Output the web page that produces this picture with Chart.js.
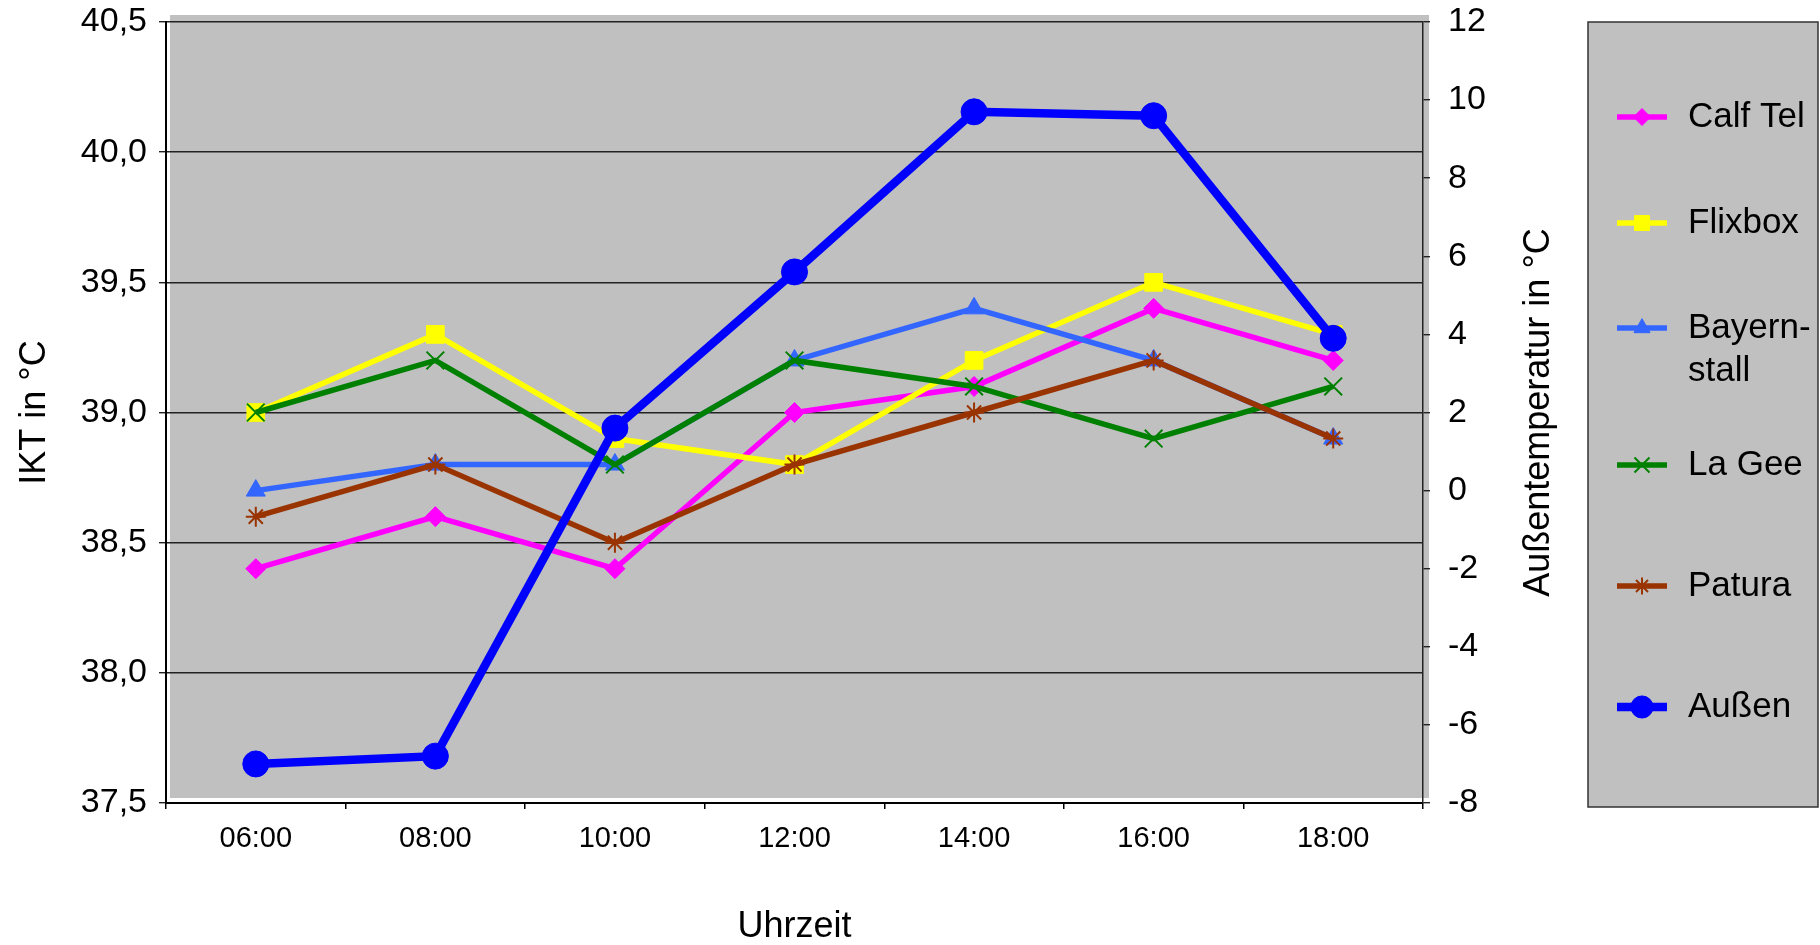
<!DOCTYPE html>
<html lang="de">
<head>
<meta charset="utf-8">
<title>IKT und Außentemperatur</title>
<script src="https://cdn.jsdelivr.net/npm/chart.js@4.4.1/dist/chart.umd.min.js"></script>
<style>
    html, body { margin: 0; padding: 0; background: #fff; }
    #wrap { width: 1820px; height: 945px; }
</style>
</head>
<body>
<div id="wrap"><canvas id="iktChart" width="1820" height="945"></canvas></div>
<script>
// values
const timeLabels = ["06:00", "08:00", "10:00", "12:00", "14:00", "16:00", "18:00"];
const calfTel = [38.4, 38.6, 38.4, 39.0, 39.1, 39.4, 39.2];
const flixbox = [39.0, 39.3, 38.9, 38.8, 39.2, 39.5, 39.3];
const bayernstall = [38.7, 38.8, 38.8, 39.2, 39.4, 39.2, 38.9];
const laGee = [39.0, 39.2, 38.8, 39.2, 39.1, 38.9, 39.1];
const patura = [38.6, 38.8, 38.5, 38.8, 39.0, 39.2, 38.9];
const aussen = [-7.0, -6.8, 1.6, 5.6, 9.7, 9.6, 3.9];

const seriesNames = ["Calf Tel", "Flixbox", ["Bayern-", "stall"], "La Gee", "Patura", "Außen"];
const iktTicks = { min: 37.5, max: 40.5, step: 0.5 };
const outsideTicks = { min: -8, max: 12, step: 2 };

const FONT = 'Arial, "Liberation Sans", sans-serif';

document.addEventListener("DOMContentLoaded", function() {
    initChart();
});

function makeSeries(name, data, color, style, radius, axis, width) {
    return {
        label: Array.isArray(name) ? name.join("") : name,
        legendText: name,
        data: data,
        yAxisID: axis,
        borderColor: color,
        backgroundColor: color,
        borderWidth: width,
        pointStyle: style,
        pointRadius: radius,
        pointHoverRadius: radius,
        pointBorderColor: color,
        pointBackgroundColor: color,
        pointBorderWidth: (style === "crossRot" || style === "star") ? 2 : 1,
        tension: 0
    };
}

// grey plot area, slightly shifted like the original
const plotBackground = {
    id: "plotBackground",
    beforeDraw(chart) {
        let ctx = chart.ctx;
        let a = chart.chartArea;
        ctx.save();
        ctx.fillStyle = "#fff";
        ctx.fillRect(0, 0, chart.width, chart.height);
        ctx.fillStyle = "#c0c0c0";
        ctx.fillRect(a.left + 4, a.top - 7, a.right - a.left + 2, a.bottom - a.top + 2);
        ctx.restore();
    }
};

// right axis title (reads bottom to top) and the boxed legend
const extras = {
    id: "extras",
    afterDraw(chart) {
        let ctx = chart.ctx;
        let a = chart.chartArea;
        ctx.save();

        ctx.fillStyle = "#000";
        ctx.font = "36px " + FONT;
        ctx.textAlign = "center";
        ctx.textBaseline = "middle";
        ctx.translate(1539, (a.top + a.bottom) / 2);
        ctx.rotate(-Math.PI / 2);
        ctx.fillText("Außentemperatur in °C", 0, 0);
        ctx.setTransform(1, 0, 0, 1, 0, 0);

        // legend box
        let box = { x: 1588, y: 22, w: 230, h: 785 };
        ctx.fillStyle = "#c0c0c0";
        ctx.fillRect(box.x, box.y, box.w, box.h);
        ctx.strokeStyle = "#333";
        ctx.lineWidth = 1.5;
        ctx.strokeRect(box.x, box.y, box.w, box.h);

        let rowY = [117, 223, 328, 465, 586, 707];
        chart.data.datasets.forEach(function(ds, i) {
            let y = rowY[i];
            ctx.strokeStyle = ds.borderColor;
            ctx.lineWidth = ds.borderWidth;
            ctx.beginPath();
            ctx.moveTo(1617, y);
            ctx.lineTo(1667, y);
            ctx.stroke();

            ctx.fillStyle = ds.pointBackgroundColor;
            ctx.strokeStyle = ds.pointBorderColor;
            ctx.lineWidth = ds.pointBorderWidth;
            Chart.helpers.drawPoint(ctx, {
                pointStyle: ds.pointStyle,
                radius: ds.pointRadius * 0.85,
                rotation: 0,
                borderWidth: ds.pointBorderWidth
            }, 1642, y);

            ctx.fillStyle = "#000";
            ctx.font = "35px " + FONT;
            ctx.textAlign = "left";
            ctx.textBaseline = "middle";
            let lines = Array.isArray(ds.legendText) ? ds.legendText : [ds.legendText];
            lines.forEach(function(t, k) {
                ctx.fillText(t, 1688, y + k * 43);
            });
        });
        ctx.restore();
    }
};

function commaLabel(v) {
    return Number(v).toFixed(1).replace(".", ",");
}

// keep the value axes from pushing the plot down for their end labels
function fixYAxis(width) {
    return function(scale) {
        scale.width = width;
        scale.paddingTop = 0;
        scale.paddingBottom = 0;
    };
}

function initChart() {
    let ctx = document.getElementById("iktChart").getContext("2d");

    let datasets = [
        makeSeries(seriesNames[0], calfTel, "#ff00ff", "rectRot", 10, "y", 5.5),
        makeSeries(seriesNames[1], flixbox, "#ffff00", "rect", 12.5, "y", 5.5),
        makeSeries(seriesNames[2], bayernstall, "#3366ff", "triangle", 11, "y", 5.5),
        makeSeries(seriesNames[3], laGee, "#008000", "crossRot", 12.5, "y", 5.5),
        makeSeries(seriesNames[4], patura, "#993300", "star", 10, "y", 5.5),
        makeSeries(seriesNames[5], aussen, "#0000ff", "circle", 13, "y1", 8.5)
    ];
    // later series sit on top, like in the original
    datasets.forEach(function(ds, i) { ds.order = datasets.length - 1 - i; });

    new Chart(ctx, {
        type: "line",
        data: { labels: timeLabels, datasets: datasets },
        options: {
            responsive: false,
            animation: false,
            devicePixelRatio: 1,
            layout: { padding: { left: 0, top: 22, right: 245, bottom: 0 } },
            plugins: {
                legend: { display: false },
                tooltip: { enabled: false }
            },
            scales: {
                x: {
                    type: "category",
                    offset: true,
                    afterFit: function(scale) { scale.height = 142; },
                    grid: {
                        offset: true,
                        drawOnChartArea: false,
                        tickLength: 6,
                        color: "#000",
                        lineWidth: 1.5
                    },
                    border: { color: "#000", width: 2 },
                    ticks: {
                        color: "#000",
                        font: { family: FONT, size: 29 },
                        padding: 13,
                        maxRotation: 0
                    },
                    title: {
                        display: true,
                        text: "Uhrzeit",
                        color: "#000",
                        font: { family: FONT, size: 36, lineHeight: 1.0 },
                        padding: { top: 0, bottom: 0 }
                    }
                },
                y: {
                    position: "left",
                    min: iktTicks.min,
                    max: iktTicks.max,
                    afterFit: fixYAxis(166),
                    grid: {
                        color: "#222",
                        lineWidth: 1.4,
                        tickLength: 7
                    },
                    border: { color: "#000", width: 2 },
                    ticks: {
                        stepSize: iktTicks.step,
                        color: "#000",
                        font: { family: FONT, size: 34 },
                        padding: 12,
                        callback: commaLabel
                    },
                    title: {
                        display: true,
                        text: "IKT in °C",
                        color: "#000",
                        font: { family: FONT, size: 36, lineHeight: 1.1 },
                        padding: { top: 15, bottom: 0 }
                    }
                },
                y1: {
                    position: "right",
                    min: outsideTicks.min,
                    max: outsideTicks.max,
                    afterFit: fixYAxis(152),
                    grid: {
                        drawOnChartArea: false,
                        color: "#222",
                        lineWidth: 1.4,
                        tickLength: 7
                    },
                    border: { color: "#222", width: 1.5 },
                    ticks: {
                        stepSize: outsideTicks.step,
                        color: "#000",
                        font: { family: FONT, size: 34 },
                        padding: 18
                    }
                }
            }
        },
        plugins: [plotBackground, extras]
    });
}
</script>
</body>
</html>
